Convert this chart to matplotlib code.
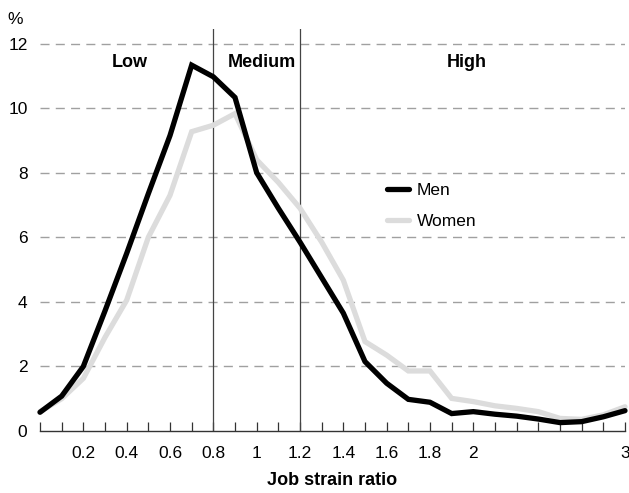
import matplotlib
matplotlib.use("Agg")
import matplotlib.pyplot as plt
from matplotlib import font_manager

names = {f.name for f in font_manager.fontManager.ttflist}
FONT = "Liberation Sans Narrow" if "Liberation Sans Narrow" in names else "Liberation Sans"
plt.rcParams["font.family"] = [FONT, "DejaVu Sans"]

# Data
x_labels = ["0", "0.1", "0.2", "0.3", "0.4", "0.5", "0.6", "0.7", "0.8", "0.9",
            "1", "1.1", "1.2", "1.3", "1.4", "1.5", "1.6", "1.7", "1.8", "1.9",
            "2", "2.1", "2.2", "2.3", "2.4", "2.5", "2.6", "3"]
shown_labels = ["0.2", "0.4", "0.6", "0.8", "1", "1.2", "1.4", "1.6", "1.8", "2", "3"]
men = [0.58, 1.08, 2.0, 3.72, 5.5, 7.35, 9.15, 11.33, 10.97, 10.33,
       8.0, 6.9, 5.85, 4.75, 3.65, 2.15, 1.48, 0.98, 0.89, 0.54,
       0.6, 0.52, 0.46, 0.37, 0.26, 0.29, 0.44, 0.63]
women = [0.6, 1.0, 1.63, 2.9, 4.05, 6.0, 7.3, 9.27, 9.47, 9.83,
         8.4, 7.7, 6.9, 5.85, 4.67, 2.77, 2.35, 1.86, 1.86, 1.01,
         0.91, 0.78, 0.70, 0.6, 0.39, 0.36, 0.5, 0.75]
zones = ["Low", "Medium", "High"]
zone_bounds = ["0.8", "1.2"]

fig = plt.figure(figsize=(6.29, 4.93), dpi=100)
ax = fig.add_axes([40/629, 1-431/493, 585/629, (431-29)/493])

xs = list(range(len(x_labels)))
ax.set_xlim(0, len(x_labels) - 1)
ax.set_ylim(0, 12.45)

for v in [2, 4, 6, 8, 10, 12]:
    ax.axhline(v, color="#a0a0a0", lw=1.0, dashes=(6.5, 4.5), zorder=1)

for b in zone_bounds:
    ax.axvline(x_labels.index(b), color="#444444", lw=0.9, zorder=2)

ax.plot(xs, women, color="#dcdcdc", lw=3.8, solid_capstyle="round",
        solid_joinstyle="miter", label="Women", zorder=3, clip_on=False)
ax.plot(xs, men, color="#000000", lw=3.8, solid_capstyle="round",
        solid_joinstyle="miter", label="Men", zorder=4, clip_on=False)

h, l = ax.get_legend_handles_labels()
leg = ax.legend(h[::-1], l[::-1], loc="center left", bbox_to_anchor=(16.0, 6.97),
                bbox_transform=ax.transData, frameon=False, fontsize=12.5,
                handlelength=1.3, handletextpad=0.45, labelspacing=0.9,
                borderaxespad=0, borderpad=0)

zone_x = [4.13, 10.25, 19.7]
for z, zx in zip(zones, zone_x):
    ax.text(zx, 11.4, z, ha="center", va="center", fontsize=13, fontweight="bold")

# axes styling
for s in ["left", "top", "right"]:
    ax.spines[s].set_visible(False)
ax.spines["bottom"].set_color("#333333")
ax.spines["bottom"].set_linewidth(1.0)
ax.set_xticks(xs)
ax.set_xticklabels([t if t in shown_labels else "" for t in x_labels])
ax.tick_params(axis="x", direction="in", length=6.5, width=0.9, color="#333333",
               labelsize=12.5, pad=11)
ax.set_yticks([0, 2, 4, 6, 8, 10, 12])
ax.set_yticklabels(["0", "2", "4", "6", "8", "10", "12"])
ax.tick_params(axis="y", length=0, labelsize=12.5, pad=9)
ax.set_xlabel("Job strain ratio", fontsize=13, fontweight="bold", labelpad=8)
fig.text(15/629, 1-20/493, "%", ha="center", va="center", fontsize=12.5)

fig.savefig("out.png", dpi=100)
